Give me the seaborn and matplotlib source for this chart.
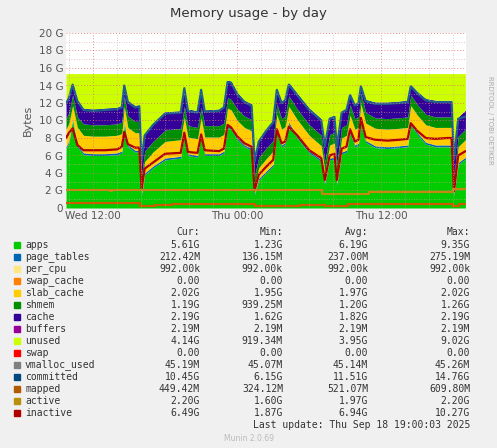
import matplotlib
matplotlib.use("Agg")
import matplotlib.pyplot as plt
import seaborn as sns
import pandas as pd
import numpy as np

# hours since Wed 00:00
hours = [9.75, 10.0, 10.3, 10.7, 11.2, 12.0, 13.0, 14.0, 14.4, 14.6, 14.9, 15.5, 15.85, 16.05,
         16.3, 17.0, 18.0, 19.3, 19.6, 19.9, 20.7, 21.0, 21.3, 22.5, 22.9, 23.2, 23.5, 24.0,
         24.6, 25.2, 25.45, 25.8, 26.4, 27.0, 27.3, 27.7, 28.0, 28.3, 29.0, 30.0, 31.0, 31.3,
         31.7, 32.1, 32.3, 32.7, 33.1, 33.4, 33.8, 34.1, 34.3, 34.7, 35.5, 36.5, 37.5, 38.2,
         38.45, 39.0, 39.7, 40.5, 41.5, 41.85, 42.05, 42.4, 43.0]
apps = [6.8, 7.5, 10.0, 7.0, 6.1, 6.0, 6.0, 6.1, 6.3, 9.7, 7.0, 6.4, 6.4, 1.5,
        3.8, 4.6, 5.5, 5.7, 8.5, 6.0, 5.8, 8.3, 6.0, 6.0, 6.3, 9.2, 9.0, 7.8,
        7.0, 6.6, 1.5, 3.2, 4.0, 4.8, 8.7, 7.0, 7.3, 9.6, 8.0, 6.3, 5.3, 2.7,
        5.5, 5.6, 2.6, 6.2, 6.4, 8.6, 7.0, 7.2, 9.8, 7.5, 6.9, 6.8, 6.9, 7.0,
        9.5, 8.4, 7.3, 7.0, 7.0, 7.0, 1.4, 5.0, 5.6]
page_tables = [0.21] * len(hours)
slab_cache = [2.0, 2.0, 1.5, 2.0, 2.0, 2.0, 2.0, 2.0, 2.0, 1.7, 2.0, 2.0, 2.0, 0.9,
              1.3, 1.6, 1.9, 1.9, 1.7, 1.9, 1.9, 1.8, 1.9, 1.9, 1.9, 2.0, 2.0, 2.0,
              2.0, 2.0, 0.8, 1.2, 1.4, 1.5, 1.8, 1.8, 1.8, 1.8, 1.9, 1.8, 1.6, 1.2,
              1.5, 1.6, 1.1, 1.6, 1.7, 1.8, 1.8, 1.8, 1.9, 2.0, 2.0, 2.0, 2.0, 2.0,
              2.0, 2.0, 2.0, 2.0, 2.0, 2.0, 0.8, 1.8, 2.0]
shmem = [1.2, 1.2, 1.2, 1.2, 1.3, 1.3, 1.3, 1.3, 1.3, 1.2, 1.3, 1.3, 1.3, 1.2,
         1.2, 1.2, 1.3, 1.3, 1.2, 1.3, 1.3, 1.2, 1.3, 1.3, 1.3, 1.2, 1.2, 1.3,
         1.3, 1.3, 1.2, 1.2, 1.2, 1.2, 1.2, 1.2, 1.2, 1.2, 1.2, 1.2, 1.2, 1.2,
         1.2, 1.2, 1.2, 1.2, 1.2, 1.2, 1.2, 1.2, 1.2, 1.2, 1.2, 1.2, 1.2, 1.2,
         1.2, 1.2, 1.2, 1.2, 1.2, 1.2, 1.2, 1.2, 1.19]
cache = [1.9, 1.9, 1.4, 2.0, 1.8, 1.8, 1.9, 1.9, 1.9, 1.4, 1.8, 1.8, 1.9, 1.8,
         2.0, 2.1, 2.1, 2.0, 2.3, 1.9, 1.9, 2.2, 1.8, 1.9, 2.0, 2.0, 2.1, 1.9,
         1.8, 1.8, 1.8, 2.0, 2.2, 2.3, 1.8, 2.0, 2.0, 1.5, 1.8, 1.9, 1.9, 2.0,
         2.0, 2.0, 2.0, 1.9, 1.9, 1.3, 1.7, 1.8, 1.0, 1.5, 1.8, 1.9, 1.9, 1.9,
         1.2, 1.5, 1.8, 1.9, 1.9, 1.9, 2.1, 2.2, 2.19]
buffers = [0.002] * len(hours)
committed = [11.9, 12.6, 14.1, 12.2, 11.2, 11.1, 11.2, 11.3, 11.5, 14.0, 12.1, 11.5, 11.6, 5.4,
             8.3, 9.5, 10.8, 10.9, 13.7, 11.1, 10.9, 13.5, 11.0, 11.1, 11.5, 14.4, 14.3, 13.0,
             12.1, 11.7, 5.3, 7.6, 8.8, 9.8, 13.5, 12.0, 12.3, 14.1, 12.9, 11.2, 10.0, 7.1,
             10.2, 10.4, 6.9, 10.9, 11.2, 12.9, 11.7, 12.0, 13.9, 12.2, 11.9, 11.9, 12.0, 12.1,
             13.9, 13.1, 12.3, 12.1, 12.1, 12.1, 5.5, 10.2, 10.45]
inactive = [8.0, 8.6, 9.1, 7.2, 6.6, 6.6, 6.6, 6.7, 7.0, 8.7, 7.3, 6.9, 6.9, 2.2,
            4.5, 5.2, 6.2, 6.3, 8.6, 6.4, 6.3, 8.4, 6.6, 6.5, 6.8, 9.5, 9.2, 8.2,
            7.4, 7.0, 2.0, 3.8, 4.7, 5.5, 9.0, 7.4, 7.6, 9.3, 8.3, 6.6, 5.7, 3.2,
            6.0, 6.2, 3.2, 6.8, 7.0, 9.0, 7.6, 7.8, 10.3, 8.1, 7.8, 7.7, 7.8, 7.9,
            9.7, 8.8, 8.0, 7.9, 8.0, 8.0, 1.9, 6.0, 6.49]
mem_total = 15.36

# step series: (hour, value)
active_t = [9.75, 13.4, 13.6, 31.1, 35.0, 42.0, 43.0]
active_v = [2.0, 1.95, 2.0, 1.6, 1.85, 2.2, 2.2]
mapped_t = [9.75, 15.9, 17.2, 18.6, 25.5, 29.2, 31.3, 33.2, 34.5, 42.0, 42.5, 43.0]
mapped_v = [0.53, 0.27, 0.33, 0.45, 0.27, 0.35, 0.27, 0.4, 0.5, 0.27, 0.45, 0.45]

legend_names = ["apps", "page_tables", "per_cpu", "swap_cache", "slab_cache", "shmem", "cache",
                "buffers", "unused", "swap", "vmalloc_used", "committed", "mapped", "active", "inactive"]
legend_colors = ["#00CC00", "#0066B3", "#FFE680", "#FF8000", "#FFCC00", "#008F00", "#330099",
                 "#990099", "#CCFF00", "#FF0000", "#808080", "#00487D", "#B35A00", "#B8900B", "#B00000"]
cur = ["5.61G", "212.42M", "992.00k", "0.00", "2.02G", "1.19G", "2.19G", "2.19M", "4.14G",
       "0.00", "45.19M", "10.45G", "449.42M", "2.20G", "6.49G"]
mins = ["1.23G", "136.15M", "992.00k", "0.00", "1.95G", "939.25M", "1.62G", "2.19M", "919.34M",
        "0.00", "45.07M", "6.15G", "324.12M", "1.60G", "1.87G"]
avgs = ["6.19G", "237.00M", "992.00k", "0.00", "1.97G", "1.20G", "1.82G", "2.19M", "3.95G",
        "0.00", "45.14M", "11.51G", "521.07M", "1.97G", "6.94G"]
maxs = ["9.35G", "275.19M", "992.00k", "0.00", "2.02G", "1.26G", "2.19G", "2.19M", "9.02G",
        "0.00", "45.26M", "14.76G", "609.80M", "2.20G", "10.27G"]

sns.set_style("white")
plt.rcParams['font.family'] = ['DejaVu Sans']
bg = "#F0F0F0"
fig = plt.figure(figsize=(4.97, 4.48), dpi=100, facecolor=bg)
ax = fig.add_axes([66 / 497, 1 - 208 / 448, 400 / 497, 175 / 448])
ax.set_facecolor("white")

stack = [apps, page_tables, slab_cache, shmem, cache, buffers]
stack_cols = ["#00CC00", "#0066B3", "#FFCC00", "#008F00", "#330099", "#990099"]
ax.stackplot(hours, *stack, colors=stack_cols, linewidth=0)
top = np.sum(np.array(stack), axis=0)
ax.fill_between(hours, top, mem_total, color="#CCFF00", linewidth=0)

lines = pd.DataFrame({"h": hours, "committed": committed, "inactive": inactive})
sns.lineplot(data=lines, x="h", y="committed", ax=ax, color="#1F5F8F", lw=1.6)
sns.lineplot(data=lines, x="h", y="inactive", ax=ax, color="#B00000", lw=1.6)
ax.step(active_t, active_v, where="post", color="#C08A10", lw=1.6)
ax.step(mapped_t, mapped_v, where="post", color="#CC5A00", lw=1.6)

ax.set_xlim(9.75, 43.05)
ax.set_ylim(0, 20)
ax.set_yticks(range(0, 21, 2))
ax.set_yticklabels(["0"] + [f"{v} G" for v in range(2, 21, 2)], fontsize=7.5, color="#555555")
ax.set_yticks(range(0, 21), minor=True)
ax.set_xticks([12, 24, 36])
ax.set_xticklabels(["Wed 12:00", "Thu 00:00", "Thu 12:00"], fontsize=7.5, color="#555555")
ax.set_xticks(np.arange(10, 44, 2), minor=True)
ax.grid(True, which="major", color="#E07070", ls=(0, (1, 2)), lw=0.7, alpha=0.8)
ax.grid(True, which="minor", color="#D8A0A0", ls=(0, (1, 2)), lw=0.6, alpha=0.8)
ax.set_axisbelow(False)
for s in ax.spines.values():
    s.set_visible(False)
ax.tick_params(length=0, which="both", pad=2)
ax.set_xlabel("")
ax.set_ylabel("Bytes", fontsize=8, color="#555555")

fig.text(0.5, 1 - 13 / 448, "Memory usage - by day", ha="center", va="center", fontsize=9.5, color="#333333")
fig.text(490 / 497, 1 - 120 / 448, "RRDTOOL / TOBI OETIKER", rotation=270, ha="center", va="center",
         fontsize=5, color="#AAAAAA")

mono = "DejaVu Sans Mono"
def ty(y):
    return 1 - y / 448
hdr_y = 232
for x, lab in [(200, "Cur:"), (283, "Min:"), (368, "Avg:"), (470, "Max:")]:
    fig.text(x / 497, ty(hdr_y), lab, ha="right", va="center", family=mono, fontsize=7, color="#333333")
for i, name in enumerate(legend_names):
    y = 245 + i * 12
    fig.patches.append(plt.Rectangle((14 / 497, ty(y + 3)), 6 / 497, 6 / 448, transform=fig.transFigure,
                                     color=legend_colors[i]))
    fig.text(25 / 497, ty(y), name, ha="left", va="center", family=mono, fontsize=7, color="#333333")
    for x, col in [(200, cur), (283, mins), (368, avgs), (470, maxs)]:
        fig.text(x / 497, ty(y), col[i], ha="right", va="center", family=mono, fontsize=7, color="#333333")
fig.text(470 / 497, ty(425), "Last update: Thu Sep 18 19:00:03 2025", ha="right", va="center",
         family=mono, fontsize=7, color="#333333")
fig.text(0.5, ty(438), "Munin 2.0.69", ha="center", va="center", fontsize=5.5, color="#BBBBBB")

fig.savefig("out.png", dpi=100, facecolor=bg)
